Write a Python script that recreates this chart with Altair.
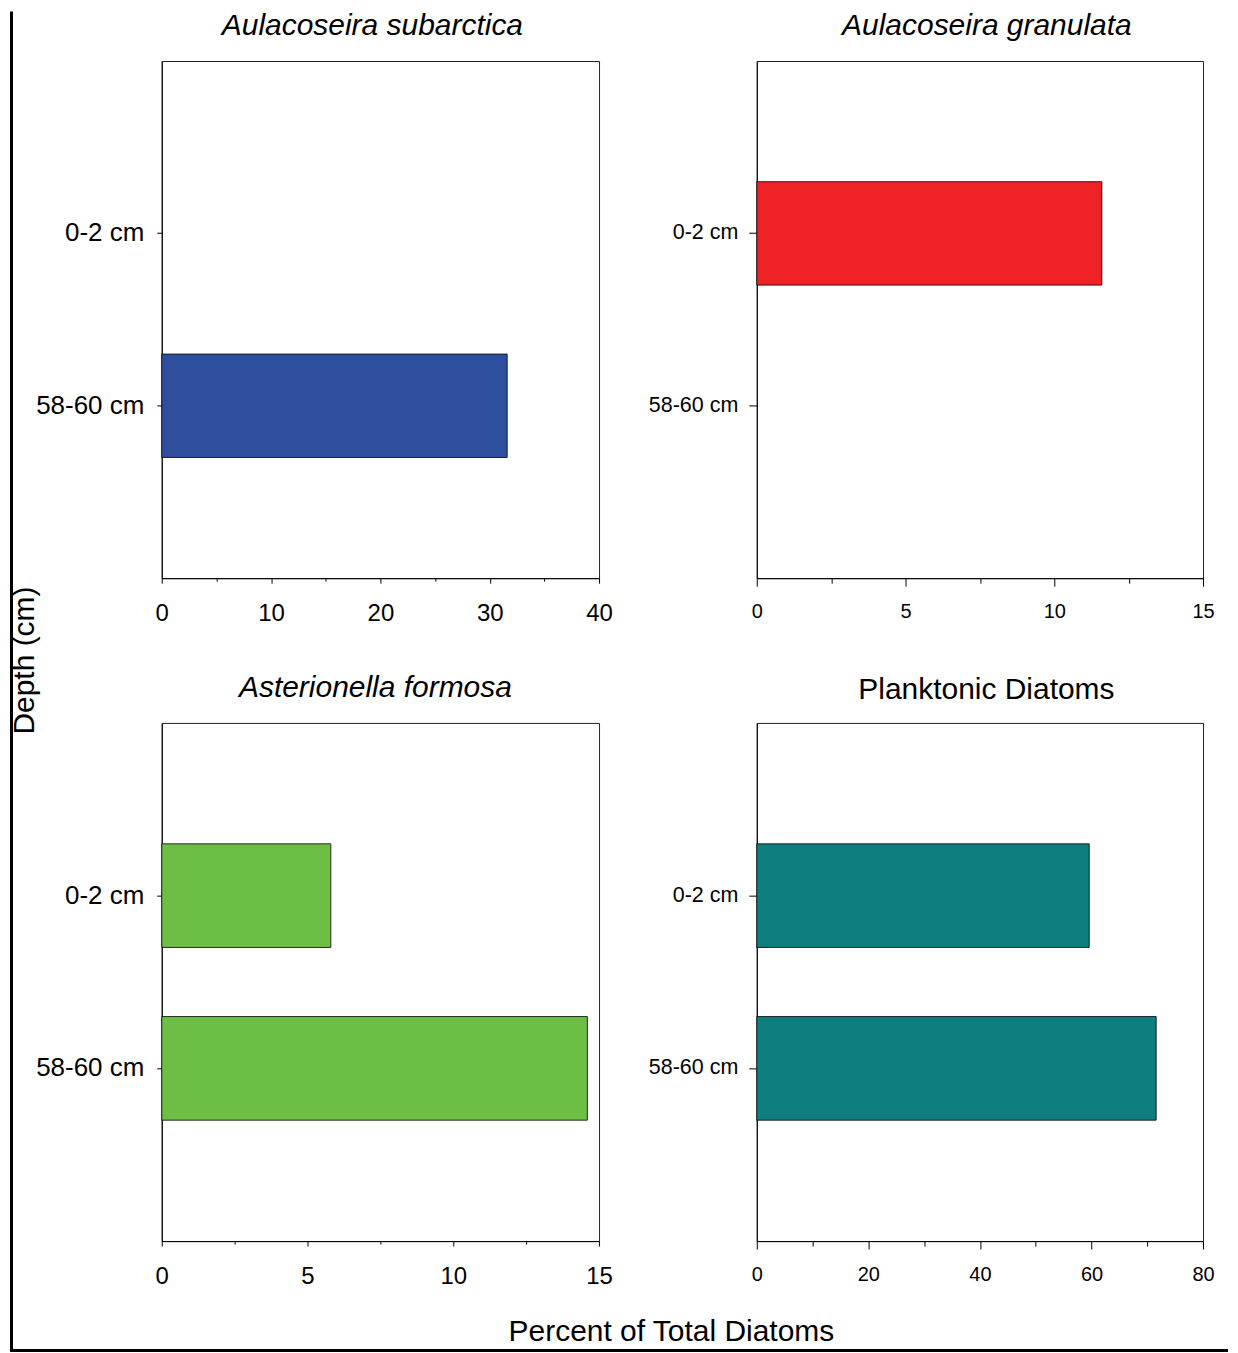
import altair as alt
import pandas as pd

FONT = "Liberation Sans"

# ---- data ----
depths = ["0-2 cm", "58-60 cm"]
subarctica = [0.0, 31.6]
granulata = [11.6, 0.0]
formosa = [5.8, 14.6]
planktonic = [59.6, 71.6]

ticks_subarctica = [0, 5, 10, 15, 20, 25, 30, 35, 40]
ticks_granulata = [0, 2.5, 5, 7.5, 10, 12.5, 15]
ticks_formosa = [0, 2.5, 5, 7.5, 10, 12.5, 15]
ticks_planktonic = [0, 10, 20, 30, 40, 50, 60, 70, 80]

titles = ["Aulacoseira subarctica", "Aulacoseira granulata", "Asterionella formosa", "Planktonic Diatoms"]

colors = {"sub": "#2E4E9E", "gran": "#EE2224", "form": "#6DBE45", "plank": "#0E7F7E"}


def bars(values, color, ticks, major, big, y_title=None, x_title=None):
    df = pd.DataFrame({"depth": depths, "pct": values})
    df = df[df["pct"] > 0]
    xlab = 24 if big else 20
    ylab = 26 if big else 21.5
    tmaj = 5 if big else 8
    tmin = 3 if big else 5
    ytick = 5 if big else 8
    ypad = 13 if big else 11
    xpad = 18 if big else 15

    xaxis_kw = dict(
        values=ticks,
        labelExpr=f"datum.value % {major} === 0 ? datum.label : ''",
        tickSize={"condition": {"test": f"datum.value % {major} !== 0", "value": tmin}, "value": tmaj},
        labelFontSize=xlab, labelFont=FONT, labelColor="black",
        labelPadding=xpad, labelFlush=False, labelOverlap=False,
        domainColor="black", tickColor="black", domainWidth=1, tickWidth=1,
        grid=False,
    )
    if x_title:
        xaxis_kw.update(title=x_title, titleFont=FONT, titleFontSize=30, titleFontWeight="normal",
                        titleColor="black", titleX=510, titleY=100, titleAlign="center",
                        titleBaseline="alphabetic", titleAnchor="start")
    else:
        xaxis_kw.update(title=None)

    yaxis_kw = dict(
        labelFontSize=ylab, labelFont=FONT, labelColor="black", labelPadding=ypad,
        tickSize=ytick, domainColor="black", tickColor="black", domainWidth=1, grid=False,
    )
    if y_title:
        yaxis_kw.update(title=y_title, titleFont=FONT, titleFontSize=30, titleFontWeight="normal",
                        titleColor="black", titleX=-128, titleY=600, titleAngle=270,
                        titleAlign="center", titleBaseline="alphabetic", titleAnchor="start")
    else:
        yaxis_kw.update(title=None)

    return alt.Chart(df).mark_bar(color=color, stroke="black", strokeWidth=0.8).encode(
        x=alt.X("pct:Q", scale=alt.Scale(domain=[0, ticks[-1]], nice=False, zero=True),
                axis=alt.Axis(**xaxis_kw)),
        y=alt.Y("depth:N", sort=depths,
                scale=alt.Scale(domain=depths, paddingInner=0.4, paddingOuter=0.7),
                axis=alt.Axis(**yaxis_kw)),
    )


def ptitle(text, italic, xpos, ypos):
    return alt.Chart(pd.DataFrame({"t": [text]})).mark_text(
        font=FONT, fontSize=30, fontStyle="italic" if italic else "normal",
        color="black", align="center", baseline="alphabetic",
    ).encode(text="t:N", x=alt.value(xpos), y=alt.value(ypos))


# figure frame (left and bottom border lines of the original figure)
frame_df = pd.DataFrame({"f": [0]})
frame_left = alt.Chart(frame_df).mark_rule(color="black", strokeWidth=3).encode(
    x=alt.value(-150.5), y=alt.value(-49.5), y2=alt.value(1291.5))
frame_bottom = alt.Chart(frame_df).mark_rule(color="black", strokeWidth=3).encode(
    x=alt.value(-152), x2=alt.value(1068), y=alt.value(1291.5))

p1 = alt.layer(
    bars(subarctica, colors["sub"], ticks_subarctica, 10, True, y_title="Depth (cm)"),
    ptitle(titles[0], True, 211, -26),
    frame_left, frame_bottom,
).properties(width=438, height=518)
p2 = alt.layer(
    bars(granulata, colors["gran"], ticks_granulata, 5, False),
    ptitle(titles[1], True, 230.5, -26),
).properties(width=447, height=518)
p3 = alt.layer(
    bars(formosa, colors["form"], ticks_formosa, 5, True, x_title="Percent of Total Diatoms"),
    ptitle(titles[2], True, 214, -26),
).properties(width=438, height=519)
p4 = alt.layer(
    bars(planktonic, colors["plank"], ticks_planktonic, 20, False),
    ptitle(titles[3], False, 230, -24),
).properties(width=447, height=519)

chart = alt.concat(
    p1, p2, p3, p4, columns=2, spacing={"row": 145, "column": 158}, bounds="flush"
).properties(
    padding={"left": 0, "top": 0, "right": 0, "bottom": 0}
).configure(
    background="white"
).configure_view(
    stroke="#222222", strokeWidth=1
)

chart.save("out.html", embed_options={"renderer": "svg", "actions": False})
